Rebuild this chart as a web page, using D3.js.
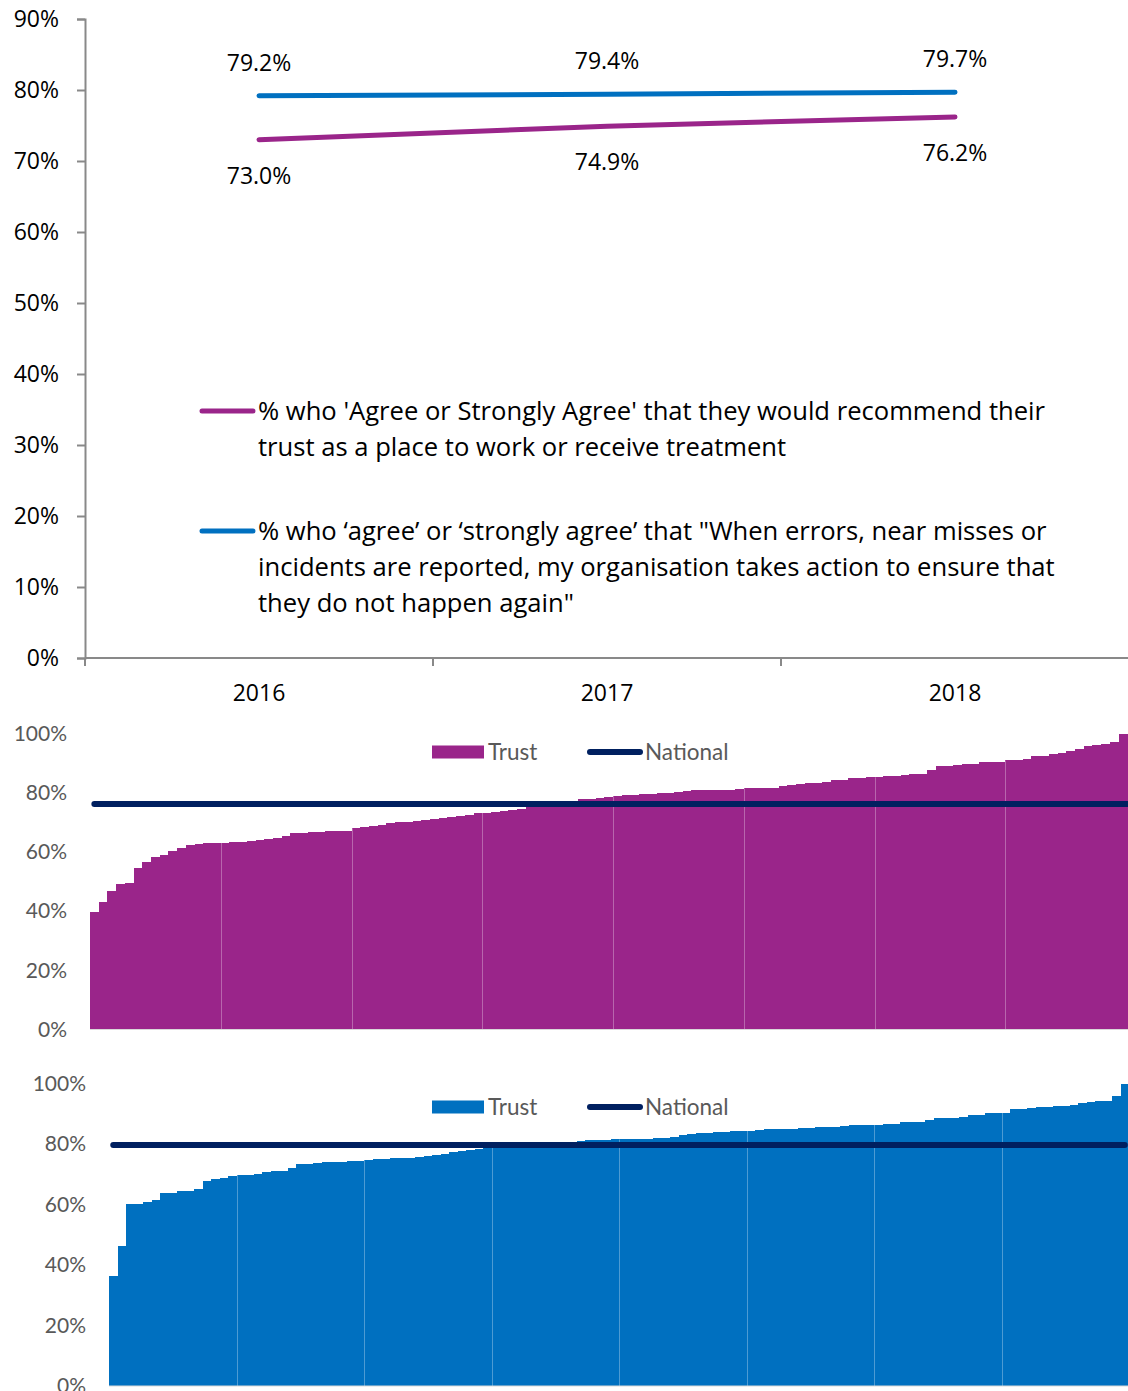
<!DOCTYPE html>
<html>
<head>
<meta charset="utf-8">
<script src="https://cdnjs.cloudflare.com/ajax/libs/d3/7.8.5/d3.min.js"></script>
<style>
body { margin: 0; background: #fff; }
svg { display: block; }
</style>
</head>
<body>
<div class="chart"></div>
<script>
// top chart: staff survey trend
var years = ["2016", "2017", "2018"];
var recommendPct = [73.0, 74.9, 76.2];
var errorsPct = [79.2, 79.4, 79.7];
var topTicks = [0, 10, 20, 30, 40, 50, 60, 70, 80, 90];
var legendRecommend = ["% who 'Agree or Strongly Agree' that they would recommend their",
                       "trust as a place to work or receive treatment"];
var legendErrors = ["% who \u2018agree\u2019 or \u2018strongly agree\u2019 that \"When errors, near misses or",
                    "incidents are reported, my organisation takes action to ensure that",
                    "they do not happen again\""];

// bottom charts: trusts ranked, with the national figure
var barTicks = [0, 20, 40, 60, 80, 100];
var recommendTrusts = [
    39.8, 43.0, 46.7, 49.2, 49.4, 54.7, 56.5, 58.4, 59.0, 60.3, 61.2, 62.2, 62.7, 62.9, 63.1,
    63.1, 63.2, 63.3, 63.7, 63.9, 64.3, 64.6, 65.3, 66.3, 66.5, 66.6, 66.8, 66.9, 66.9, 66.9,
    68.0, 68.4, 68.9, 69.2, 69.7, 70.1, 70.2, 70.5, 70.8, 71.1, 71.5, 71.8, 72.2, 72.6, 73.0,
    73.2, 73.5, 73.8, 74.2, 74.6, 75.1, 75.4, 75.8, 76.3, 76.8, 77.3, 77.8, 78.0, 78.3, 78.6,
    78.9, 79.1, 79.2, 79.5, 79.6, 79.8, 80.0, 80.3, 80.7, 80.8, 80.8, 80.8, 80.9, 80.9, 81.3,
    81.5, 81.5, 81.6, 81.7, 82.3, 82.6, 82.8, 83.2, 83.4, 83.7, 84.3, 84.4, 85.0, 85.1, 85.2,
    85.2, 85.6, 85.6, 86.1, 86.4, 86.4, 87.8, 89.1, 89.1, 89.4, 89.8, 89.8, 90.5, 90.5, 90.5,
    90.9, 90.9, 91.5, 92.5, 92.5, 93.1, 93.4, 94.2, 94.7, 95.7, 96.2, 96.5, 97.1, 100, 100];
var recommendNational = 76.2;
var errorsTrusts = [
    36.5, 46.4, 60.1, 60.3, 60.7, 61.6, 63.7, 63.7, 64.4, 64.6, 65.2, 67.7, 68.3, 68.8, 69.5,
    69.8, 69.9, 70.1, 70.9, 71.0, 71.1, 72.0, 73.3, 73.5, 73.8, 73.9, 73.9, 74.2, 74.4, 74.5,
    74.7, 74.9, 75.0, 75.3, 75.4, 75.5, 75.7, 75.9, 76.5, 76.7, 77.4, 77.6, 78.0, 78.3, 79.2,
    79.4, 79.5, 79.6, 79.7, 79.9, 80.0, 80.2, 80.4, 80.6, 80.8, 81.0, 81.2, 81.3, 81.4, 81.5,
    81.5, 81.5, 81.5, 81.5, 82.1, 82.1, 82.4, 82.9, 83.2, 83.5, 83.5, 83.9, 83.9, 84.2, 84.4,
    84.3, 84.6, 85.0, 85.0, 85.0, 85.0, 85.3, 85.3, 85.6, 85.6, 85.6, 86.1, 86.2, 86.3, 86.4,
    86.4, 86.7, 86.7, 87.3, 87.3, 87.3, 87.8, 88.7, 88.7, 88.7, 89.0, 89.6, 89.6, 90.1, 90.1,
    90.4, 91.5, 91.5, 91.8, 92.1, 92.1, 92.5, 92.5, 92.8, 93.6, 93.9, 94.3, 94.3, 95.9, 100];
var errorsNational = 79.7;

var purple = "#9a258a";
var blue = "#0070c0";
var navy = "#002060";
var grey = "#595959";

var svg = d3.select(".chart").append("svg")
    .attr("width", 1128)
    .attr("height", 1391);

// ---------- line chart ----------
var xTop = d3.scaleBand().domain(years).range([85, 1129]);
var yTop = d3.scaleLinear().domain([0, 90]).range([658, 19]);

var yAxisTop = svg.append("g")
    .attr("transform", "translate(85,0)")
    .call(d3.axisLeft(yTop).tickValues(topTicks).tickSize(8).tickPadding(18)
          .tickFormat(function(d) { return d + "%"; }));
yAxisTop.select(".domain").attr("stroke", "#898989").attr("stroke-width", 2);
yAxisTop.selectAll(".tick line").attr("stroke", "#898989").attr("stroke-width", 2);
yAxisTop.selectAll(".tick text")
    .style("font-family", "'Open Sans', sans-serif")
    .style("font-size", "23px")
    .style("fill", "#000");

svg.append("line")
    .attr("x1", 85).attr("x2", 1129)
    .attr("y1", yTop(0)).attr("y2", yTop(0))
    .attr("stroke", "#898989").attr("stroke-width", 2);
for (k = 0; k < years.length; k++) {
    svg.append("line")
        .attr("x1", xTop(years[k])).attr("x2", xTop(years[k]))
        .attr("y1", yTop(0)).attr("y2", yTop(0) + 8)
        .attr("stroke", "#898989").attr("stroke-width", 2);
    svg.append("text")
        .text(years[k])
        .attr("x", xTop(years[k]) + xTop.bandwidth() / 2)
        .attr("y", 693)
        .attr("dy", "0.35em")
        .attr("text-anchor", "middle")
        .style("font-family", "'Open Sans', sans-serif")
        .style("font-size", "23px")
        .style("fill", "#000");
}

var line = d3.line()
    .x(function(d, i) { return xTop(years[i]) + xTop.bandwidth() / 2; })
    .y(function(d) { return yTop(d); });

var series = [
    {values: recommendPct, color: purple, offset: 36},
    {values: errorsPct, color: blue, offset: -33}
];
series.forEach(function(s) {
    svg.append("path")
        .datum(s.values)
        .attr("d", line)
        .attr("fill", "none")
        .attr("stroke", s.color)
        .attr("stroke-width", 5)
        .attr("stroke-linecap", "round");
    svg.selectAll(null)
        .data(s.values)
        .enter().append("text")
        .text(function(d) { return d.toFixed(1) + "%"; })
        .attr("x", function(d, i) { return xTop(years[i]) + xTop.bandwidth() / 2; })
        .attr("y", function(d) { return yTop(d) + s.offset; })
        .attr("dy", "0.35em")
        .attr("text-anchor", "middle")
        .style("font-family", "'Open Sans', sans-serif")
        .style("font-size", "23px")
        .style("fill", "#000");
});

// legend inside the line chart
var legendTop = [
    {lines: legendRecommend, color: purple, y: 411},
    {lines: legendErrors, color: blue, y: 531}
];
legendTop.forEach(function(l) {
    svg.append("line")
        .attr("x1", 202).attr("x2", 253)
        .attr("y1", l.y).attr("y2", l.y)
        .attr("stroke", l.color)
        .attr("stroke-width", 5)
        .attr("stroke-linecap", "round");
    for (j = 0; j < l.lines.length; j++) {
        svg.append("text")
            .text(l.lines[j])
            .attr("x", 258)
            .attr("y", l.y + j * 36)
            .attr("dy", "0.35em")
            .style("font-family", "'Open Sans', sans-serif")
            .style("font-size", "25.6px")
            .style("fill", "#000");
    }
});

// ---------- ranked bar charts ----------
function drawBars(values, national, color, left, right, bottom, top, legendY) {
    var g = svg.append("g");
    var idx = d3.range(values.length);
    var x = d3.scaleBand().domain(idx).range([left, right]).paddingInner(0);
    var y = d3.scaleLinear().domain([0, 100]).range([bottom, top]);

    g.selectAll("rect.bar")
        .data(values)
        .enter().append("rect")
        .attr("class", "bar")
        .attr("x", function(d, i) { return x(i); })
        .attr("width", x.bandwidth() + 1)
        .attr("y", function(d) { return y(d); })
        .attr("height", function(d) { return y(0) - y(d); })
        .attr("shape-rendering", "crispEdges")
        .style("fill", color);

    // light separators every 15 trusts
    for (k = 15; k < values.length; k += 15) {
        g.append("line")
            .attr("x1", Math.round(x(k)) + 0.5).attr("x2", Math.round(x(k)) + 0.5)
            .attr("y1", y(0)).attr("y2", y(values[k]))
            .attr("stroke", "#fff")
            .attr("stroke-opacity", 0.3)
            .attr("stroke-width", 1);
    }

    g.append("line")
        .attr("x1", left).attr("x2", right)
        .attr("y1", y(0)).attr("y2", y(0))
        .attr("stroke", "#d9d9d9").attr("stroke-width", 1);

    var yAxis = g.append("g")
        .attr("transform", "translate(" + left + ",0)")
        .call(d3.axisLeft(y).tickValues(barTicks).tickSize(0).tickPadding(23)
              .tickFormat(function(d) { return d + "%"; }));
    yAxis.select(".domain").remove();
    yAxis.selectAll(".tick text")
        .style("font-family", "Lato, sans-serif")
        .style("font-size", "21px")
        .style("fill", grey);

    g.append("line")
        .attr("x1", x(0) + x.bandwidth() / 2)
        .attr("x2", x(values.length - 1) + x.bandwidth() / 2)
        .attr("y1", y(national)).attr("y2", y(national))
        .attr("stroke", navy)
        .attr("stroke-width", 6)
        .attr("stroke-linecap", "round");

    // legend
    g.append("rect")
        .attr("x", 432).attr("y", legendY - 6.5)
        .attr("width", 52).attr("height", 13)
        .style("fill", color);
    g.append("text")
        .text("Trust")
        .attr("x", 488).attr("y", legendY)
        .attr("dy", "0.35em")
        .style("font-family", "Lato, sans-serif")
        .style("font-size", "22.5px")
        .style("fill", grey);
    g.append("line")
        .attr("x1", 590).attr("x2", 640)
        .attr("y1", legendY).attr("y2", legendY)
        .attr("stroke", navy)
        .attr("stroke-width", 6)
        .attr("stroke-linecap", "round");
    g.append("text")
        .text("National")
        .attr("x", 645).attr("y", legendY)
        .attr("dy", "0.35em")
        .style("font-family", "Lato, sans-serif")
        .style("font-size", "22.5px")
        .style("fill", grey);
}

drawBars(recommendTrusts, recommendNational, purple, 90, 1136, 1029.5, 733.5, 752);
drawBars(errorsTrusts, errorsNational, blue, 109, 1129, 1386, 1083.5, 1107);
</script>
</body>
</html>
